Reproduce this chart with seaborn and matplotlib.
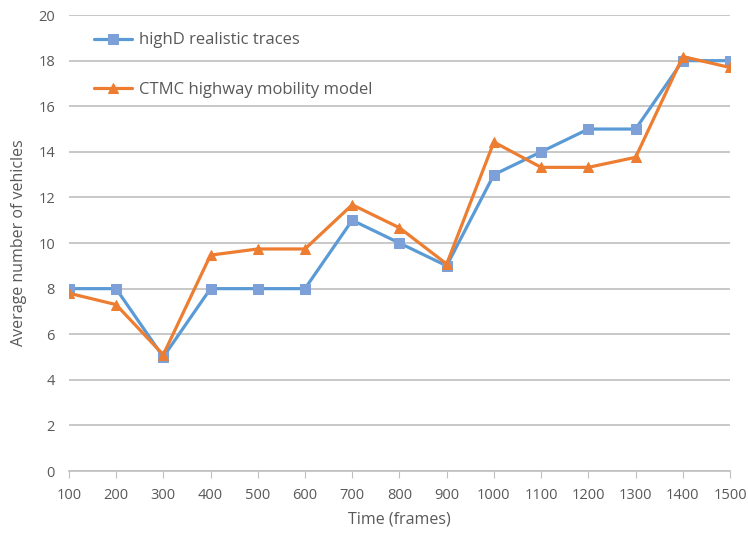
import seaborn as sns
import pandas as pd
import matplotlib.pyplot as plt

# data
frames = [100, 200, 300, 400, 500, 600, 700, 800, 900, 1000, 1100, 1200, 1300, 1400, 1500]
highd = [8, 8, 5, 8, 8, 8, 11, 10, 9, 13, 14, 15, 15, 18, 18]
ctmc = [7.8, 7.3, 5.1, 9.47, 9.74, 9.74, 11.68, 10.67, 9.08, 14.43, 13.32, 13.32, 13.76, 18.18, 17.7]

df = pd.DataFrame({'frames': frames, 'highD': highd, 'CTMC': ctmc})

sns.set_style('white')
plt.rcParams['font.family'] = ['Open Sans', 'DejaVu Sans']

fig = plt.figure(figsize=(7.48, 5.38), dpi=100)
ax = fig.add_axes([0.092, 0.1245, 0.884, 0.8475])

grey = '#595959'

sns.lineplot(data=df, x='frames', y='highD', ax=ax, color='#5B9BD5', lw=2.3,
             marker='s', markersize=7, markerfacecolor='#7DA0D8', markeredgecolor='#7DA0D8',
             label='highD realistic traces')
sns.lineplot(data=df, x='frames', y='CTMC', ax=ax, color='#ED7D31', lw=2.3,
             marker='^', markersize=7, markerfacecolor='#ED7D31', markeredgecolor='#ED7D31',
             label='CTMC highway mobility model')

ax.set_xlim(100, 1500)
ax.set_ylim(0, 20)
ax.set_xticks(frames)
ax.set_yticks(range(0, 21, 2))
ax.yaxis.grid(True, color='#BFBFBF', lw=1.2)
ax.set_axisbelow(True)
for s in ['top', 'right', 'left']:
    ax.spines[s].set_visible(False)
ax.spines['bottom'].set_color('#BFBFBF')
ax.spines['bottom'].set_linewidth(1.2)
ax.tick_params(axis='x', colors=grey, labelsize=10.5, length=5, color='#BFBFBF', pad=7, bottom=True)
ax.tick_params(axis='y', colors=grey, labelsize=10.5, length=0, pad=10)

ax.set_xlabel('Time (frames)', color=grey, fontsize=11.5, labelpad=6)
ax.set_ylabel('Average number of vehicles', color=grey, fontsize=11.5, labelpad=8)

leg = ax.legend(loc='upper left', bbox_to_anchor=(0.015, 0.995), frameon=False,
                fontsize=12, labelspacing=2.0, handlelength=2.3, handletextpad=0.4)
for t in leg.get_texts():
    t.set_color(grey)

fig.savefig('out.png', dpi=100)
